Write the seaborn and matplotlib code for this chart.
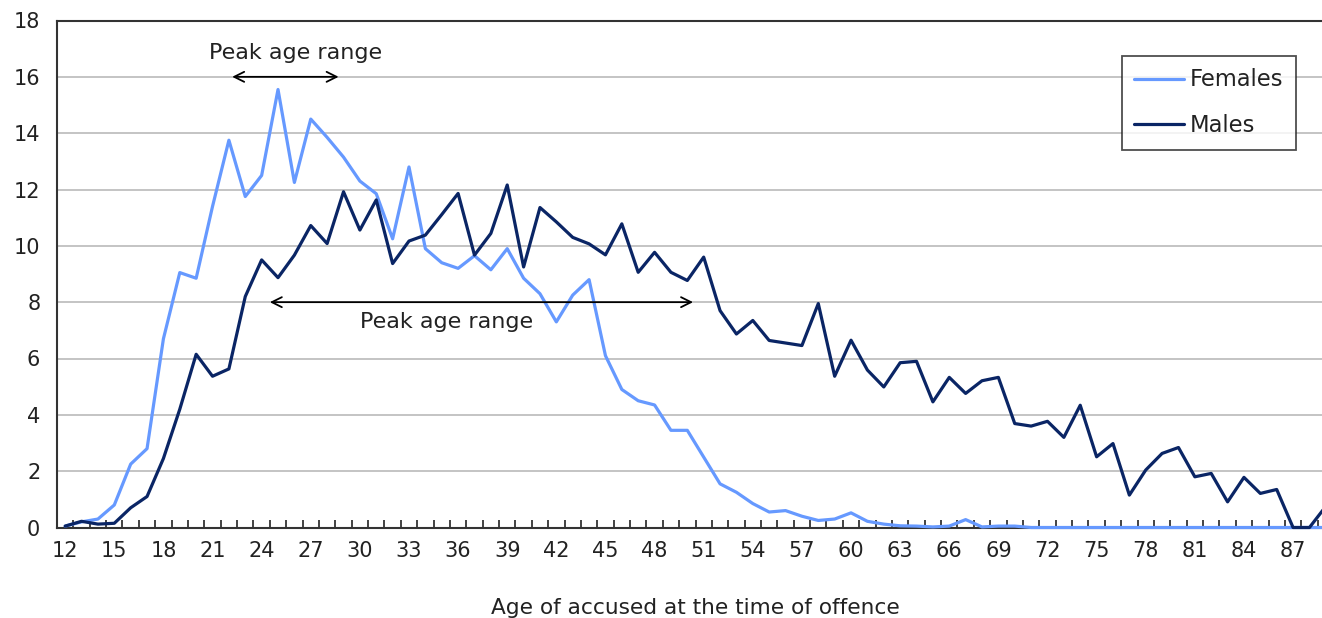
import matplotlib
matplotlib.use("Agg")
import matplotlib.pyplot as plt
import seaborn as sns
import pandas as pd
import numpy as np

# ages 12..89
ages = list(range(12, 90))

females = [0.05, 0.2, 0.3, 0.8, 2.25, 2.8, 6.7, 9.05, 8.85, 11.4,
           13.75, 11.75, 12.5, 15.55, 12.25, 14.5, 13.85, 13.15, 12.3, 11.85,
           10.25, 12.8, 9.9, 9.4, 9.2, 9.65, 9.15, 9.9, 8.85, 8.3,
           7.3, 8.25, 8.8, 6.1, 4.9, 4.5, 4.35, 3.45, 3.45, 2.5,
           1.55, 1.25, 0.85, 0.55, 0.6, 0.4, 0.25, 0.3, 0.52, 0.22,
           0.12, 0.06, 0.05, 0.02, 0.05, 0.28, 0.02, 0.05, 0.05, 0,
           0, 0, 0, 0, 0, 0, 0, 0, 0, 0,
           0, 0, 0, 0, 0, 0, 0, 0]

males = [0.05, 0.22, 0.12, 0.15, 0.7, 1.1, 2.45, 4.2, 6.15, 5.37,
         5.63, 8.2, 9.5, 8.87, 9.67, 10.72, 10.08, 11.92, 10.56, 11.63,
         9.37, 10.17, 10.38, 11.11, 11.86, 9.67, 10.44, 12.16, 9.25, 11.36,
         10.85, 10.3, 10.07, 9.68, 10.78, 9.06, 9.77, 9.06, 8.77, 9.6,
         7.7, 6.87, 7.35, 6.64, 6.55, 6.46, 7.95, 5.37, 6.65, 5.59,
         4.99, 5.85, 5.9, 4.46, 5.33, 4.76, 5.21, 5.33, 3.69, 3.6,
         3.77, 3.2, 4.34, 2.51, 2.98, 1.15, 2.04, 2.63, 2.84, 1.8,
         1.92, 0.91, 1.78, 1.21, 1.35, 0, 0, 0.75]

series_names = ['Females', 'Males']
colors = ['#6699FF', '#0A2565']

df = pd.DataFrame({
    'Age': ages * 2,
    'Rate': females + males,
    'Sex': ['Females'] * len(ages) + ['Males'] * len(ages),
})

sns.set_style('white')
plt.rcParams['font.family'] = ['DejaVu Sans']
fs = 15
fs_note = 16
txt = '#222222'

fig = plt.figure(figsize=(13.22, 6.18), dpi=100)
ax = fig.add_axes([57 / 1322, 90.5 / 618, 1277 / 1322, 507 / 618])

sns.lineplot(data=df, x='Age', y='Rate', hue='Sex', hue_order=series_names,
             palette=colors, linewidth=2.3, ax=ax, zorder=3, clip_on=False)

ax.set_xlim(11.5, 89.5)
ax.set_ylim(0, 18)
ax.set_yticks(np.arange(0, 19, 2))
ax.set_xticks(range(12, 88, 3))
ax.set_xticks(np.arange(11.5, 90, 1), minor=True)
ax.tick_params(axis='x', which='major', length=0, pad=10, labelsize=fs, colors=txt)
ax.tick_params(axis='x', which='minor', length=5.5, width=1.2, direction='in',
               color=txt, bottom=True)
ax.tick_params(axis='y', length=0, pad=12, labelsize=fs, colors=txt)

ax.grid(axis='y', color='#c4c4c4', linewidth=1.4)
ax.set_axisbelow(True)
for s in ax.spines.values():
    s.set_color('#333333')
    s.set_linewidth(1.5)
    s.set_visible(True)

ax.set_xlabel('Age of accused at the time of offence', fontsize=15.6, color=txt, labelpad=26)
ax.set_ylabel('')

# peak age range annotations
ax.annotate('', xy=(22.2, 16), xytext=(28.7, 16),
            arrowprops=dict(arrowstyle='<->', color='black', lw=1.3,
                            shrinkA=0, shrinkB=0, mutation_scale=18))
ax.text(26.1, 16.85, 'Peak age range', ha='center', va='center', fontsize=fs_note, color=txt)
ax.annotate('', xy=(24.5, 8), xytext=(50.35, 8),
            arrowprops=dict(arrowstyle='<->', color='black', lw=1.3,
                            shrinkA=0, shrinkB=0, mutation_scale=18))
ax.text(35.3, 7.3, 'Peak age range', ha='center', va='center', fontsize=fs_note, color=txt)

leg = ax.legend(loc='upper left', bbox_to_anchor=(1122 / 1322, 1 - 56 / 618),
                bbox_transform=fig.transFigure, fontsize=16.3, frameon=True,
                fancybox=False, edgecolor=txt, handlelength=2.2,
                handletextpad=0.25, labelspacing=1.0, borderpad=0.55,
                borderaxespad=0)
leg.get_frame().set_linewidth(1.3)
for t in leg.get_texts():
    t.set_color(txt)

fig.savefig('out.png', dpi=100)
